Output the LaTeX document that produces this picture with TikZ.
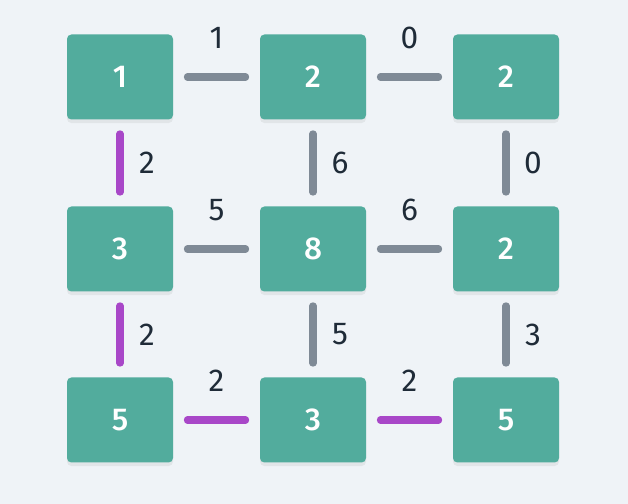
\documentclass[tikz,border=0pt]{standalone}
\usepackage{fontspec}
\setmainfont{Fira Sans}
\newfontfamily\cellfont{Fira Sans Medium}
\usetikzlibrary{positioning, shadows}
\definecolor{gridteal}{HTML}{52AC9D}
\definecolor{edgegray}{HTML}{7F8A96}
\definecolor{mstpurple}{HTML}{A847C8}
\definecolor{labelink}{HTML}{1F2B38}
\definecolor{pagebg}{HTML}{EFF3F7}

\begin{document}
\begin{tikzpicture}[
      every node/.style={font=\fontsize{18}{20}\selectfont},
      cell/.style={fill=gridteal, rounded corners=2.5pt, minimum width=2.12cm,
                   minimum height=1.7cm, text=white,
                   font=\cellfont\fontsize{18}{20}\selectfont,
                   drop shadow={opacity=0.12, shadow xshift=0pt, shadow yshift=-2pt}},
      link/.style={line width=4pt, line cap=round, draw=edgegray,
                   shorten <=0.28cm, shorten >=0.28cm},
      mst/.style={link, draw=mstpurple},
      hw/.style={midway, yshift=0.78cm, text=labelink},
      vw/.style={midway, xshift=0.54cm, text=labelink},
    ]
    \fill[pagebg] (0,0) rectangle (12.56,10.08);
    \useasboundingbox (0,0) rectangle (12.56,10.08);

    % grid cells
    \node[cell] (a1) at (2.40, 8.54) {1};
    \node[cell] (a2) at (6.26, 8.54) {2};
    \node[cell] (a3) at (10.12, 8.54) {2};
    \node[cell] (b1) at (2.40, 5.10) {3};
    \node[cell] (b2) at (6.26, 5.10) {8};
    \node[cell] (b3) at (10.12, 5.10) {2};
    \node[cell] (c1) at (2.40, 1.68) {5};
    \node[cell] (c2) at (6.26, 1.68) {3};
    \node[cell] (c3) at (10.12, 1.68) {5};

    % horizontal edges
    \draw[link] (a1) -- (a2) node[hw] {1};
    \draw[link] (a2) -- (a3) node[hw] {0};
    \draw[link] (b1) -- (b2) node[hw] {5};
    \draw[link] (b2) -- (b3) node[hw] {6};
    \draw[mst] (c1) -- (c2) node[hw] {2};
    \draw[mst] (c2) -- (c3) node[hw] {2};

    % vertical edges
    \draw[mst] (a1) -- (b1) node[vw] {2};
    \draw[link] (a2) -- (b2) node[vw] {6};
    \draw[link] (a3) -- (b3) node[vw] {0};
    \draw[mst] (b1) -- (c1) node[vw] {2};
    \draw[link] (b2) -- (c2) node[vw] {5};
    \draw[link] (b3) -- (c3) node[vw] {3};
  \end{tikzpicture}
\end{document}
